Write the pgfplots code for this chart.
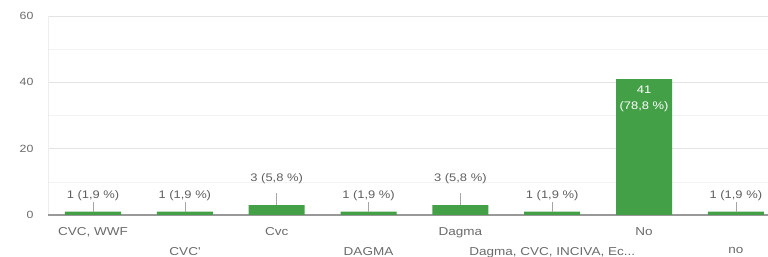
\documentclass[border=0pt]{standalone}
\usepackage{fontspec}
\setmainfont[FakeStretch=1.18]{Liberation Sans}
\usepackage{pgfplots}
\pgfplotsset{compat=1.18}
\definecolor{bargreen}{HTML}{43A047}
\definecolor{txt}{HTML}{5F5F5F}
\definecolor{ticktxt}{HTML}{6A6A6A}
\begin{document}
\begin{tikzpicture}
\begin{axis}[
  scale only axis, width=720bp, height=199bp,
  xmin=-0.49, xmax=7.35, ymin=0, ymax=60,
  separate axis lines,
  x axis line style={draw=none},
  y axis line style={draw=black!7, line width=0.6bp},
  axis x line*=bottom, axis y line*=left,
  major tick length=0, minor tick length=0,
  ytick={20,40,60}, minor ytick={10,30,50},
  extra y ticks={0},
  extra y tick style={major grid style={color=black!40, line width=1.6bp}},
  ymajorgrids, yminorgrids,
  major grid style={color=black!11, line width=0.6bp},
  minor grid style={color=black!5, line width=0.6bp},
  xtick={0,2,4,6}, xticklabels={{CVC, WWF},Cvc,Dagma,No},
  extra x ticks={1,3,5,7},
  extra x tick labels={CVC\textquotesingle,DAGMA,{Dagma, CVC, INCIVA, Ec{.}{.}{.}},no},
  extra x tick style={xticklabel style={yshift=-20bp}, major tick length=0},
  xticklabel style={font=\fontsize{11.5}{13}\selectfont, text=ticktxt, inner sep=0pt, yshift=-12bp},
  yticklabel style={font=\fontsize{10.5}{12}\selectfont, text=ticktxt, xshift=-11bp},
  /pgf/number format/assume math mode=true,
]
\addplot[ybar, bar width=0.61, fill=bargreen, draw=none]
  coordinates {(0,1) (1,1) (2,3) (3,1) (4,3) (5,1) (6,41) (7,1)};
\addplot[draw=none, mark=none, forget plot,
  error bars/.cd, y dir=plus, y explicit, error mark=none,
  error bar style={color=black!35, line width=0.6bp}]
  coordinates {(0,1) +- (0,2.9) (1,1) +- (0,2.9) (2,3) +- (0,3.6) (3,1) +- (0,2.9)
               (4,3) +- (0,3.6) (5,1) +- (0,2.9) (7,1) +- (0,2.9)};
\addplot[draw=none, mark=none, nodes near coords, point meta=explicit symbolic,
  nodes near coords style={anchor=center, text=txt, font=\fontsize{11}{13}\selectfont}]
  table[col sep=semicolon, row sep=\\, meta=lab] {
  x;y;lab\\
  0;5.9;1 (1,9 \%)\\
  1;5.9;1 (1,9 \%)\\
  2;11.1;3 (5,8 \%)\\
  3;5.9;1 (1,9 \%)\\
  4;11.1;3 (5,8 \%)\\
  5;5.9;1 (1,9 \%)\\
  7;5.9;1 (1,9 \%)\\
  };
\addplot[draw=none, mark=none, nodes near coords={41\\(78,8 \%)},
  nodes near coords style={anchor=center, align=center, text=white, font=\fontsize{11}{16}\selectfont}]
  coordinates {(6,35.0)};
\end{axis}
\pgfresetboundingbox
\path[use as bounding box] (-48bp,-42bp) rectangle (720bp,215bp);
\end{tikzpicture}
\end{document}
